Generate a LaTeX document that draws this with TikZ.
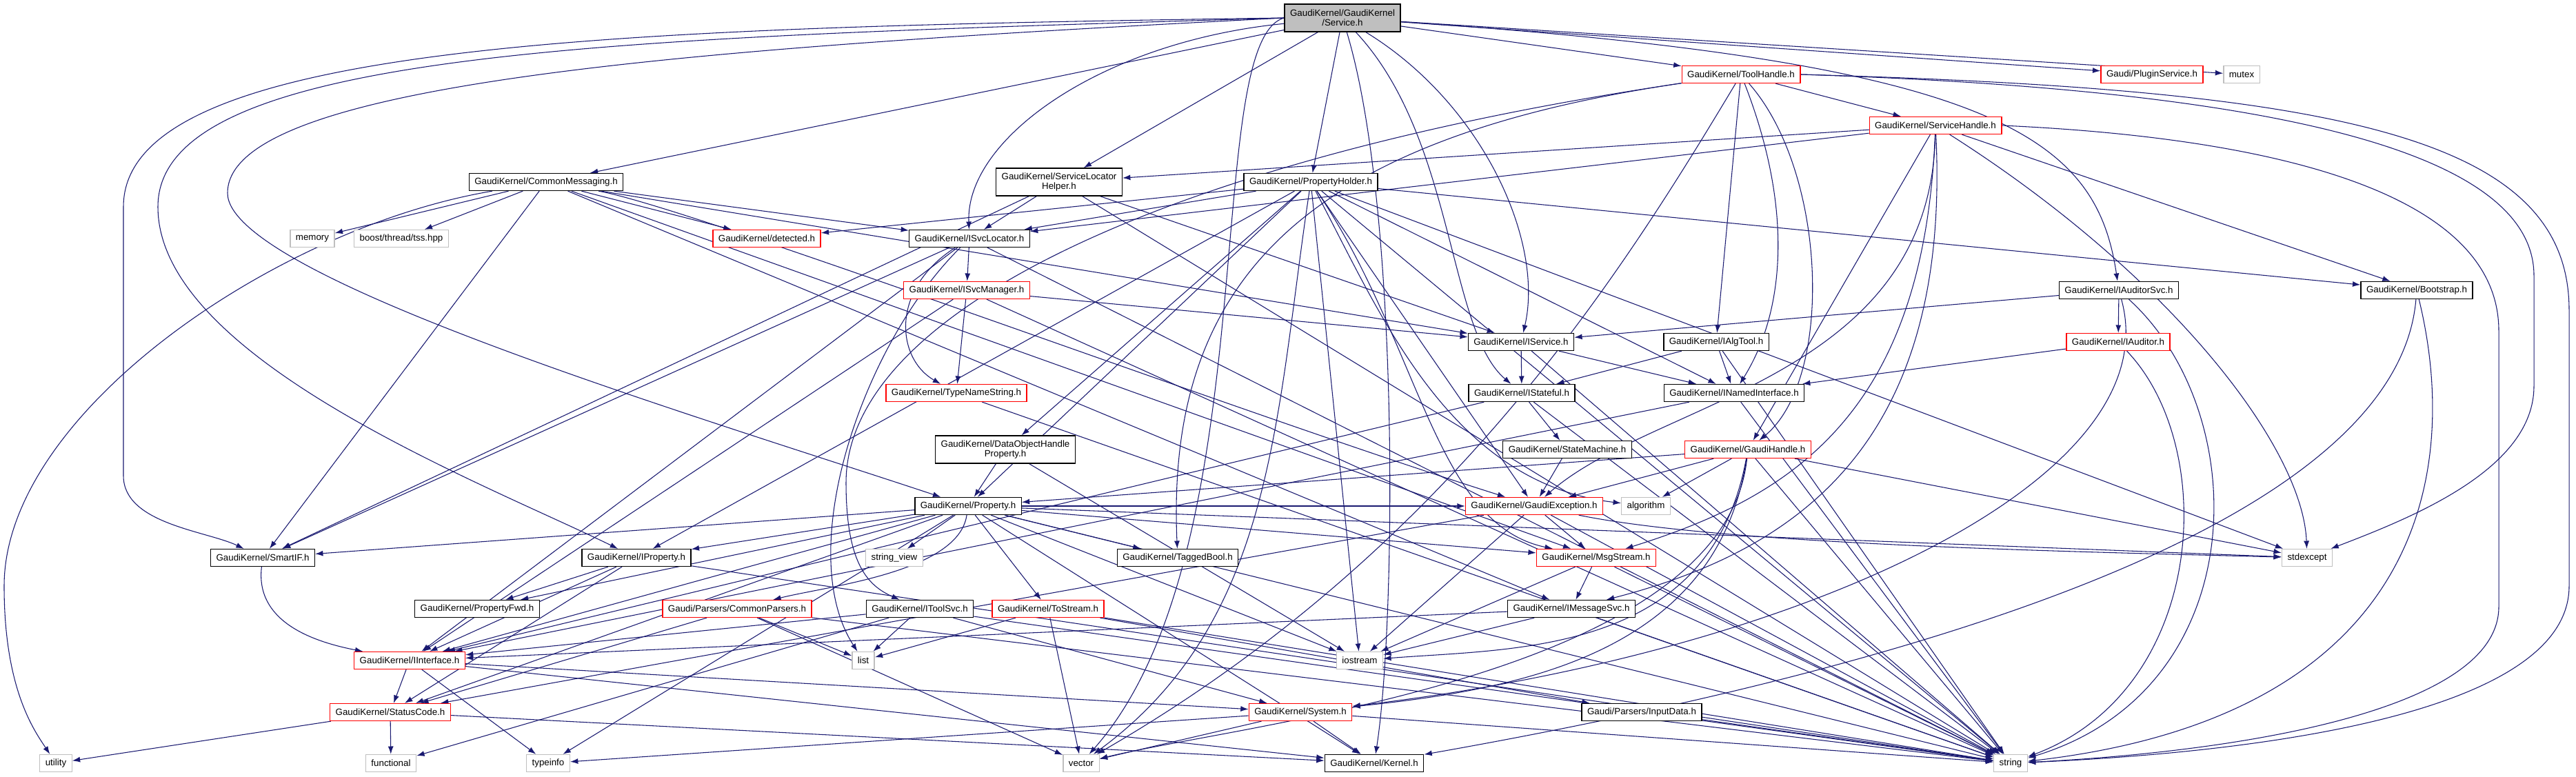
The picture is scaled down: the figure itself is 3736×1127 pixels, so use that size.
\documentclass[tikz,border=0pt]{standalone}
\usepackage{fontspec}
\setmainfont{Liberation Sans}
\usepackage{xcolor}
\usepackage{tikz}
\usetikzlibrary{arrows.meta}
\pgfdeclarelayer{edges}
\pgfsetlayers{edges,main}
\definecolor{edgeblue}{HTML}{191970}
\definecolor{sysgrey}{HTML}{BFBFBF}

\begin{document}
\begin{tikzpicture}[x=0.75pt, y=-0.75pt, every node/.style={font=\fontsize{10}{10.5}\selectfont}]

% Styles
\tikzstyle{box} = [draw=black, line width=1pt, fill=white, align=center, inner xsep=6pt, inner ysep=2pt, minimum height=18.75pt]
\tikzstyle{tallbox} = [box, minimum height=30pt]
\tikzstyle{redbox} = [box, draw=red]
\tikzstyle{sysbox} = [box, draw=sysgrey]
\tikzstyle{rootbox} = [tallbox, fill=sysgrey]
\tikzstyle{arrow} = [-{Latex[length=8.5pt,width=6pt]}, edgeblue, line width=0.8pt]

\useasboundingbox (0,0) rectangle (3736,1127);

% Nodes
\node[rootbox] (root) at (1947,26) {GaudiKernel/GaudiKernel\\/Service.h};
\node[redbox] (toolhandle) at (2525,108) {GaudiKernel/ToolHandle.h};
\node[redbox] (pluginsvc) at (3121,108) {Gaudi/PluginService.h};
\node[sysbox] (mutex) at (3251,108) {mutex};
\node[redbox] (svchandle) at (2807,182) {GaudiKernel/ServiceHandle.h};
\node[box] (commsg) at (792,264) {GaudiKernel/CommonMessaging.h};
\node[tallbox] (slhelper) at (1536,264) {GaudiKernel/ServiceLocator\\Helper.h};
\node[box] (propholder) at (1901,264) {GaudiKernel/PropertyHolder.h};
\node[sysbox] (memory) at (453,346) {memory};
\node[sysbox] (tss) at (582,346) {boost/thread/tss.hpp};
\node[redbox] (detected) at (1112,346) {GaudiKernel/detected.h};
\node[box] (isvcloc) at (1406,346) {GaudiKernel/ISvcLocator.h};
\node[redbox] (isvcmgr) at (1402,421) {GaudiKernel/ISvcManager.h};
\node[box] (iauditorsvc) at (3073,421) {GaudiKernel/IAuditorSvc.h};
\node[box] (bootstrap) at (3505,421) {GaudiKernel/Bootstrap.h};
\node[box] (iservice) at (2206,496) {GaudiKernel/IService.h};
\node[box] (ialgtool) at (2489,496) {GaudiKernel/IAlgTool.h};
\node[redbox] (iauditor) at (3072,496) {GaudiKernel/IAuditor.h};
\node[redbox] (typename) at (1387,570) {GaudiKernel/TypeNameString.h};
\node[box] (istateful) at (2207,570) {GaudiKernel/IStateful.h};
\node[box] (inamed) at (2515,570) {GaudiKernel/INamedInterface.h};
\node[tallbox] (dohprop) at (1458,652) {GaudiKernel/DataObjectHandle\\Property.h};
\node[box] (statemach) at (2273,652) {GaudiKernel/StateMachine.h};
\node[redbox] (gaudihandle) at (2535,652) {GaudiKernel/GaudiHandle.h};
\node[box] (property) at (1404,734) {GaudiKernel/Property.h};
\node[redbox] (gexception) at (2225,734) {GaudiKernel/GaudiException.h};
\node[sysbox] (algorithm) at (2387,734) {algorithm};
\node[box] (smartif) at (381,809) {GaudiKernel/SmartIF.h};
\node[box] (iproperty) at (923,809) {GaudiKernel/IProperty.h};
\node[sysbox] (stringview) at (1297,809) {string\_view};
\node[box] (taggedbool) at (1708,809) {GaudiKernel/TaggedBool.h};
\node[redbox] (msgstream) at (2315,809) {GaudiKernel/MsgStream.h};
\node[sysbox] (stdexcept) at (3346,809) {stdexcept};
\node[box] (propfwd) at (692,883) {GaudiKernel/PropertyFwd.h};
\node[redbox] (commonparsers) at (1069,883) {Gaudi/Parsers/CommonParsers.h};
\node[box] (itoolsvc) at (1334,883) {GaudiKernel/IToolSvc.h};
\node[redbox] (tostream) at (1520,883) {GaudiKernel/ToStream.h};
\node[box] (imessagesvc) at (2279,883) {GaudiKernel/IMessageSvc.h};
\node[redbox] (iinterface) at (594,958) {GaudiKernel/IInterface.h};
\node[sysbox] (list) at (1252,958) {list};
\node[sysbox] (iostream) at (1972,958) {iostream};
\node[redbox] (statuscode) at (566,1033) {GaudiKernel/StatusCode.h};
\node[redbox] (system) at (1886,1033) {GaudiKernel/System.h};
\node[box] (inputdata) at (2381,1033) {Gaudi/Parsers/InputData.h};
\node[sysbox] (utility) at (81,1107) {utility};
\node[sysbox] (functional) at (567,1107) {functional};
\node[sysbox] (typeinfo) at (795,1107) {typeinfo};
\node[sysbox] (vector) at (1568,1107) {vector};
\node[box] (kernel) at (1993,1107) {GaudiKernel/Kernel.h};
\node[sysbox] (string) at (2916,1107) {string};

% Arrows
\begin{pgfonlayer}{edges}
% Service.h
\draw[arrow] (root) -- (commsg);
\draw[arrow] (root) .. controls (1600,60) and (1400,200) .. (isvcloc);
\draw[arrow] (root) -- (slhelper);
\draw[arrow] (root) -- (propholder);
\draw[arrow] (root) -- (toolhandle);
\draw[arrow] (root) -- (pluginsvc);
\draw[arrow] (root) -- (mutex);
\draw[arrow] (root) .. controls (2900,90) and (3040,200) .. (iauditorsvc);
\draw[arrow] (root) .. controls (2150,150) and (2240,350) .. (iservice);
\draw[arrow] (root) .. controls (2110,200) and (2100,480) .. (istateful);
\draw[arrow] (root) .. controls (2030,300) and (2025,900) .. (kernel);
\draw[arrow] (root.west) .. controls (1740,60) and (1840,800) .. (vector);
\draw[arrow] (root.west) .. controls (900,40) and (179,60) .. (179,300) -- (179,690) .. controls (179,760) and (300,770) .. (smartif);
\draw[arrow] (root.west) .. controls (900,55) and (229,70) .. (229,300) .. controls (229,520) and (700,700) .. (iproperty);
\draw[arrow] (root.west) .. controls (1000,70) and (330,120) .. (330,280) .. controls (330,400) and (1000,600) .. (property);
% ToolHandle.h
\draw[arrow] (toolhandle) -- (svchandle);
\draw[arrow] (toolhandle) -- (ialgtool);
\draw[arrow] (toolhandle) .. controls (2600,300) and (2590,450) .. (inamed);
\draw[arrow] (toolhandle) .. controls (2650,250) and (2660,550) .. (gaudihandle);
\draw[arrow] (toolhandle) .. controls (1900,200) and (1690,400) .. (taggedbool);
\draw[arrow] (toolhandle) .. controls (1700,230) and (1227,450) .. (1227,700) .. controls (1227,820) and (1260,850) .. (itoolsvc);
\draw[arrow] (toolhandle) .. controls (2350,400) and (2100,800) .. (vector);
\draw[arrow] (toolhandle.east) .. controls (3300,130) and (3675,220) .. (3675,400) -- (3675,560) .. controls (3675,680) and (3500,750) .. (stdexcept);
\draw[arrow] (toolhandle.east) .. controls (3400,130) and (3726,200) .. (3726,450) -- (3726,850) .. controls (3726,1030) and (3300,1090) .. (string);
% ServiceHandle.h
\draw[arrow] (svchandle) -- (slhelper);
\draw[arrow] (svchandle) -- (isvcloc);
\draw[arrow] (svchandle) -- (bootstrap);
\draw[arrow] (svchandle) -- (gaudihandle);
\draw[arrow] (svchandle) .. controls (2800,550) and (2400,580) .. (gexception);
\draw[arrow] (svchandle) .. controls (2790,600) and (2600,720) .. (msgstream);
\draw[arrow] (svchandle) .. controls (2830,650) and (2600,800) .. (imessagesvc);
\draw[arrow] (svchandle) .. controls (3150,400) and (3340,650) .. (stdexcept);
\draw[arrow] (svchandle.east) .. controls (3300,200) and (3624,280) .. (3624,480) -- (3624,880) .. controls (3624,1030) and (3250,1090) .. (string);
% CommonMessaging.h
\draw[arrow] (commsg) -- (memory);
\draw[arrow] (commsg) -- (tss);
\draw[arrow] (commsg) -- (detected);
\draw[arrow] (commsg) -- (isvcloc);
\draw[arrow] (commsg) -- (iservice);
\draw[arrow] (commsg) -- (smartif);
\draw[arrow] (commsg) .. controls (1000,300) and (1800,600) .. (gexception);
\draw[arrow] (commsg) -- (msgstream);
\draw[arrow] (commsg) -- (imessagesvc);
\draw[arrow] (commsg) .. controls (400,330) and (6,600) .. (6,850) .. controls (6,1000) and (50,1060) .. (utility);
% ServiceLocatorHelper.h
\draw[arrow] (slhelper) -- (isvcloc);
\draw[arrow] (slhelper) -- (iservice);
\draw[arrow] (slhelper) -- (smartif);
\draw[arrow] (slhelper) -- (string);
% PropertyHolder.h
\draw[arrow] (propholder) -- (detected);
\draw[arrow] (propholder) -- (isvcloc);
\draw[arrow] (propholder) -- (iproperty);
\draw[arrow] (propholder) -- (property);
\draw[arrow] (propholder) -- (dohprop);
\draw[arrow] (propholder) -- (gexception);
\draw[arrow] (propholder) .. controls (2060,500) and (2080,760) .. (msgstream);
\draw[arrow] (propholder) -- (inamed);
\draw[arrow] (propholder) -- (bootstrap);
\draw[arrow] (propholder) .. controls (2000,450) and (2100,700) .. (algorithm);
\draw[arrow] (propholder) -- (iostream);
\draw[arrow] (propholder) -- (stdexcept);
\draw[arrow] (propholder) -- (string);
\draw[arrow] (propholder) .. controls (1850,600) and (1850,900) .. (vector);
% ISvcLocator.h
\draw[arrow] (isvcloc) -- (isvcmgr);
\draw[arrow] (isvcloc) .. controls (1290,420) and (1300,520) .. (typename);
\draw[arrow] (isvcloc) -- (smartif);
\draw[arrow] (isvcloc) -- (iinterface);
\draw[arrow] (isvcloc) .. controls (1250,500) and (1150,800) .. (list);
\draw[arrow] (isvcloc) -- (string);
% ISvcManager.h
\draw[arrow] (isvcmgr) -- (iservice);
\draw[arrow] (isvcmgr) -- (typename);
\draw[arrow] (isvcmgr) -- (iinterface);
\draw[arrow] (isvcmgr) -- (string);
% IAuditorSvc.h
\draw[arrow] (iauditorsvc) -- (iservice);
\draw[arrow] (iauditorsvc) -- (iauditor);
\draw[arrow] (iauditorsvc) .. controls (3150,700) and (2600,950) .. (system);
\draw[arrow] (iauditorsvc) .. controls (3270,600) and (3270,1000) .. (string);
% Bootstrap.h
\draw[arrow] (bootstrap) .. controls (3473,800) and (2600,1000) .. (kernel);
\draw[arrow] (bootstrap) .. controls (3573,700) and (3500,1040) .. (string);
% IService.h, IAlgTool.h, IAuditor.h
\draw[arrow] (iservice) -- (istateful);
\draw[arrow] (iservice) -- (inamed);
\draw[arrow] (iservice) -- (string);
\draw[arrow] (ialgtool) -- (istateful);
\draw[arrow] (ialgtool) -- (inamed);
\draw[arrow] (ialgtool) -- (string);
\draw[arrow] (iauditor) -- (inamed);
\draw[arrow] (iauditor) .. controls (3219,650) and (3200,1000) .. (string);
% TypeNameString.h, IStateful.h, INamedInterface.h
\draw[arrow] (typename) -- (string);
\draw[arrow] (istateful) -- (statemach);
\draw[arrow] (istateful) -- (iinterface);
\draw[arrow] (istateful) -- (string);
\draw[arrow] (inamed) -- (iinterface);
\draw[arrow] (inamed) -- (string);
% DataObjectHandleProperty.h, StateMachine.h
\draw[arrow] (dohprop) -- (property);
\draw[arrow] (dohprop) -- (iostream);
\draw[arrow] (statemach) -- (gexception);
% GaudiHandle.h
\draw[arrow] (gaudihandle) -- (gexception);
\draw[arrow] (gaudihandle) -- (property);
\draw[arrow] (gaudihandle) -- (algorithm);
\draw[arrow] (gaudihandle) .. controls (2490,950) and (2200,1000) .. (system);
\draw[arrow] (gaudihandle) .. controls (2480,950) and (2200,940) .. (iostream);
\draw[arrow] (gaudihandle) .. controls (2500,980) and (1800,1050) .. (vector);
\draw[arrow] (gaudihandle) -- (stdexcept);
\draw[arrow] (gaudihandle) -- (string);
% Property.h
\draw[arrow] (property) -- (stringview);
\draw[arrow] (property) .. controls (1390,830) and (1200,850) .. (commonparsers);
\draw[arrow] (property) -- (tostream);
\draw[arrow] (property) -- (taggedbool);
\draw[arrow] (property) -- (iproperty);
\draw[arrow] (property) -- (propfwd);
\draw[arrow] (property) -- (smartif);
\draw[arrow] (property) -- (iinterface);
\draw[arrow] (property) -- (statuscode);
\draw[arrow] (property) -- (gexception);
\draw[arrow] (property) -- (msgstream);
\draw[arrow] (property) -- (kernel);
\draw[arrow] (property) -- (string);
\draw[arrow] (property) -- (stdexcept);
\draw[arrow] (property) -- (typeinfo);
\draw[arrow] (property) -- (iostream);
% GaudiException.h, MsgStream.h, IMessageSvc.h
\draw[arrow] (gexception) -- (statuscode);
\draw[arrow] (gexception) -- (msgstream);
\draw[arrow] (gexception) -- (iostream);
\draw[arrow] (gexception) -- (string);
\draw[arrow] (gexception) .. controls (2500,790) and (3000,800) .. (stdexcept);
\draw[arrow] (msgstream) -- (imessagesvc);
\draw[arrow] (msgstream) -- (iostream);
\draw[arrow] (msgstream) -- (string);
\draw[arrow] (imessagesvc) -- (iinterface);
\draw[arrow] (imessagesvc) -- (iostream);
\draw[arrow] (imessagesvc) -- (string);
% IProperty.h, SmartIF.h, IInterface.h, StatusCode.h
\draw[arrow] (iproperty) -- (iinterface);
\draw[arrow] (iproperty) -- (propfwd);
\draw[arrow] (iproperty) -- (statuscode);
\draw[arrow] (iproperty) -- (string);
\draw[arrow] (smartif) .. controls (370,900) and (450,930) .. (iinterface);
\draw[arrow] (iinterface) -- (statuscode);
\draw[arrow] (iinterface) -- (typeinfo);
\draw[arrow] (iinterface) -- (system);
\draw[arrow] (iinterface) -- (kernel);
\draw[arrow] (statuscode) -- (utility);
\draw[arrow] (statuscode) -- (functional);
\draw[arrow] (statuscode) -- (kernel);
% System.h
\draw[arrow] (system) -- (typeinfo);
\draw[arrow] (system) -- (vector);
\draw[arrow] (system) -- (kernel);
\draw[arrow] (system) -- (string);
% CommonParsers.h, IToolSvc.h, ToStream.h, InputData.h
\draw[arrow] (commonparsers) -- (statuscode);
\draw[arrow] (commonparsers) -- (list);
\draw[arrow] (commonparsers) -- (vector);
\draw[arrow] (commonparsers) -- (string);
\draw[arrow] (itoolsvc) -- (iinterface);
\draw[arrow] (itoolsvc) -- (list);
\draw[arrow] (itoolsvc) -- (functional);
\draw[arrow] (itoolsvc) -- (system);
\draw[arrow] (itoolsvc) -- (string);
\draw[arrow] (tostream) -- (list);
\draw[arrow] (tostream) -- (vector);
\draw[arrow] (tostream) -- (inputdata);
\draw[arrow] (tostream) -- (string);
\draw[arrow] (inputdata) -- (string);
\end{pgfonlayer}

\end{tikzpicture}
\end{document}
